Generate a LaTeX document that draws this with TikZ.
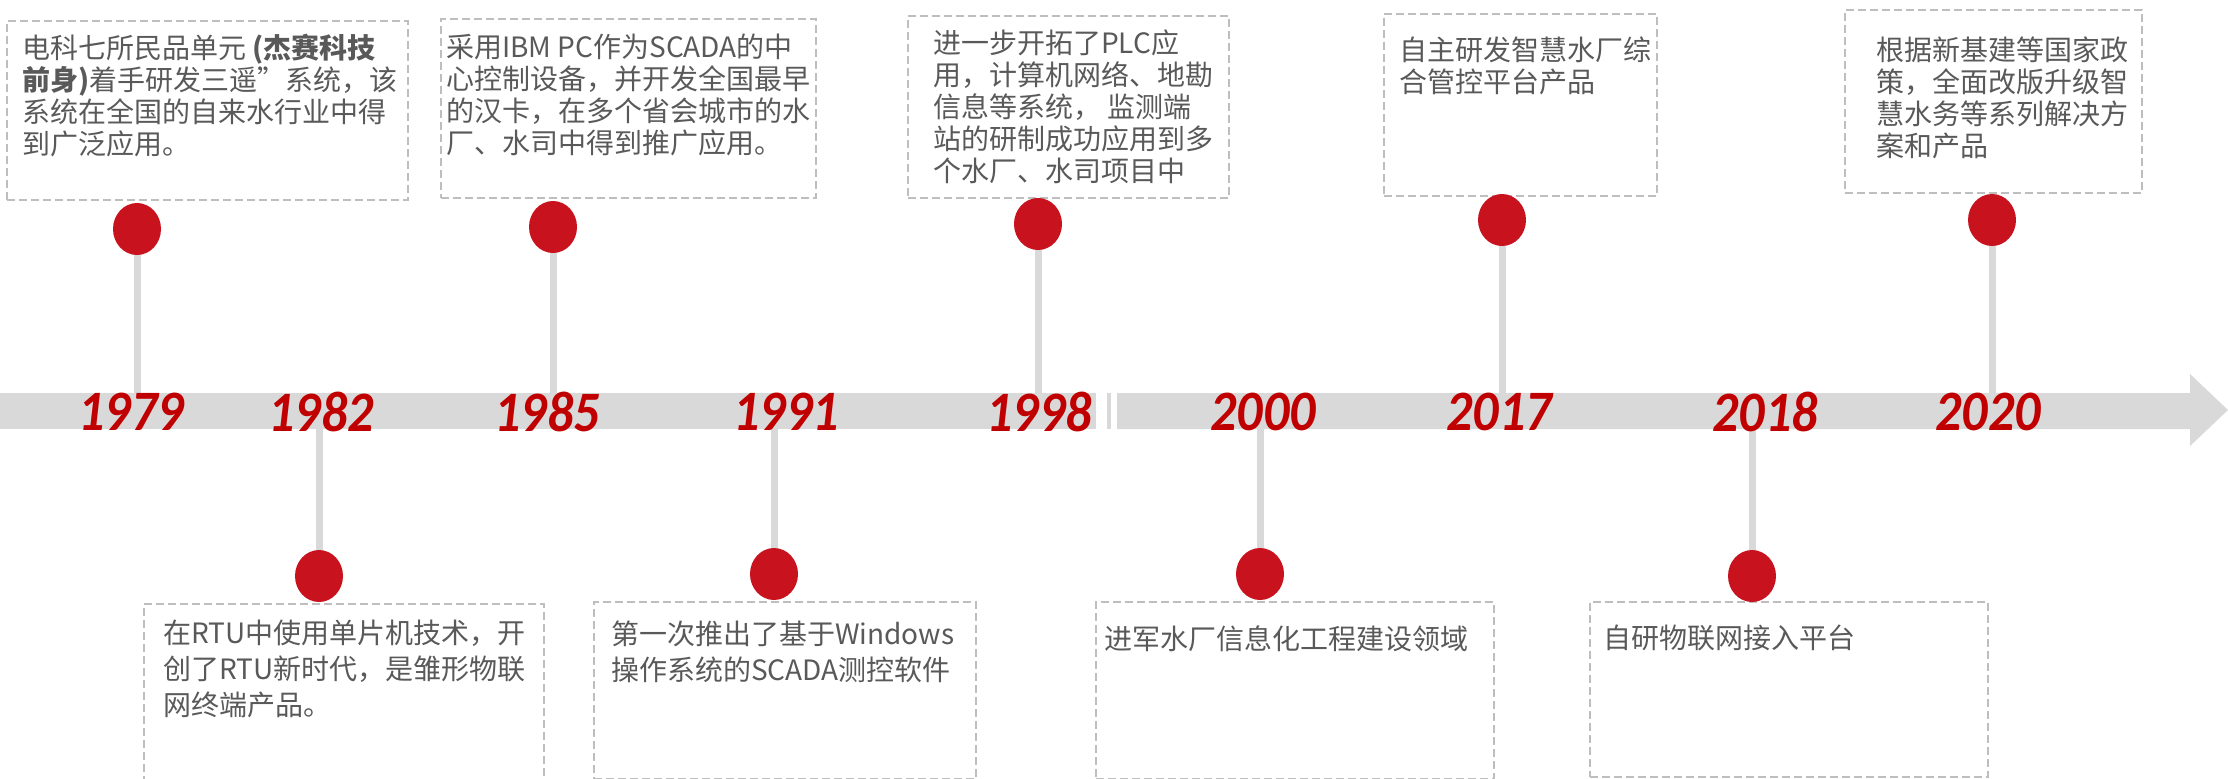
\documentclass[tikz,border=0pt]{standalone}
\usepackage{fontspec}
\usepackage{graphicx}
\setmainfont{Noto Sans CJK SC}
\newfontfamily\yearfont{Carlito}
\usetikzlibrary{shapes.geometric,positioning,calc,backgrounds}
\definecolor{bandgray}{RGB}{217,217,217}
\definecolor{pinred}{RGB}{200,18,30}
\definecolor{yearred}{RGB}{192,0,0}
\definecolor{txtgray}{RGB}{89,89,89}
\definecolor{boxgray}{RGB}{190,190,190}

\begin{document}
\begin{tikzpicture}[x=1pt,y=-1pt,
        card/.style={draw=boxgray,line width=1.5pt,dash pattern=on 8pt off 4pt,
          anchor=north west,inner sep=0pt},
        memo/.style={anchor=north west,align=left,inner sep=0pt,text=txtgray,
          font=\fontsize{28}{32}\selectfont},
        memolow/.style={memo,font=\fontsize{28}{36}\selectfont},
        pin/.style={ellipse,fill=pinred,minimum width=48pt,minimum height=52pt,inner sep=0pt},
        stem/.style={draw=bandgray,line width=7pt},
        year/.style={text=yearred,inner sep=0pt,
          font=\fontsize{52}{52}\yearfont\bfseries\itshape}]
        \useasboundingbox (0,0) rectangle (2228,779);

        % time band with its break and arrow head
        \fill[bandgray] (0,393) rectangle (1096,429);
        \fill[bandgray] (1107,393) rectangle (1111,429);
        \fill[bandgray] (1117,393) -- (2190,393) -- (2190,374) -- (2228,410)
          -- (2190,446) -- (2190,429) -- (1117,429) -- cycle;
        \coordinate (bt) at (0,393);
        \coordinate (bb) at (0,429);

        % upper cards
        \node[card,minimum width=401pt,minimum height=179pt] (b1979) at (6,20) {};
        \node[memo] (t1979) at ([xshift=16pt,yshift=-14pt]b1979.north west)
        {电科七所民品单元 \textbf{(杰赛科技}\\\textbf{前身)}着手研发三遥”系统，该\\系统在全国的自来水行业中得\\到广泛应用。};
        \node[card,minimum width=375pt,minimum height=179pt] (b1985) at (440,18) {};
        \node[memo] (t1985) at ([xshift=6pt,yshift=-16pt]b1985.north west)
        {采用IBM PC作为SCADA的中\\心控制设备，并开发全国最早\\的汉卡，在多个省会城市的水\\厂、水司中得到推广应用。};
        \node[card,minimum width=321pt,minimum height=182pt] (b1998) at (907,15) {};
        \node[memo] (t1998) at ([xshift=26pt,yshift=-15pt]b1998.north west)
        {进一步开拓了PLC应\\用，计算机网络、地勘\\信息等系统， 监测端\\站的研制成功应用到多\\个水厂、水司项目中};
        \node[card,minimum width=273pt,minimum height=182pt] (b2017) at (1383,13) {};
        \node[memo] (t2017) at ([xshift=16pt,yshift=-24pt]b2017.north west)
        {自主研发智慧水厂综\\合管控平台产品};
        \node[card,minimum width=297pt,minimum height=183pt] (b2020) at (1844,9) {};
        \node[memo] (t2020) at ([xshift=32pt,yshift=-28pt]b2020.north west)
        {根据新基建等国家政\\策，全面改版升级智\\慧水务等系列解决方\\案和产品};

        % lower cards
        \node[card,minimum width=400pt,minimum height=180pt] (b1982) at (143,603) {};
        \node[memolow] (t1982) at ([xshift=20pt,yshift=-17pt]b1982.north west)
        {在RTU中使用单片机技术，开\\创了RTU新时代，是雏形物联\\网终端产品。};
        \node[card,minimum width=382pt,minimum height=177pt] (b1991) at (593,601) {};
        \node[memolow] (t1991) at ([xshift=18pt,yshift=-20pt]b1991.north west)
        {第一次推出了基于Windows\\操作系统的SCADA测控软件};
        \node[card,minimum width=398pt,minimum height=177pt] (b2000) at (1095,601) {};
        \node[memolow] (t2000) at ([xshift=9pt,yshift=-24pt]b2000.north west)
        {进军水厂信息化工程建设领域};
        \node[card,minimum width=398pt,minimum height=175pt] (b2018) at (1589,601) {};
        \node[memolow] (t2018) at ([xshift=14pt,yshift=-24pt]b2018.north west)
        {自研物联网接入平台};

        % pins
        \node[pin] (p1979) at (137,229) {};
        \node[pin] (p1985) at (553,227) {};
        \node[pin] (p1998) at (1038,224) {};
        \node[pin] (p2017) at (1502,220) {};
        \node[pin] (p2020) at (1992,220) {};
        \node[pin] (p1982) at (319,576) {};
        \node[pin] (p1991) at (774,574) {};
        \node[pin] (p2000) at (1260,574) {};
        \node[pin] (p2018) at (1752,576) {};
        \begin{pgfonlayer}{background}
        \draw[stem] (p1979.center) -- (p1979 |- bt);
        \draw[stem] (p1985.center) -- (p1985 |- bt);
        \draw[stem] (p1998.center) -- (p1998 |- bt);
        \draw[stem] (p2017.center) -- (p2017 |- bt);
        \draw[stem] (p2020.center) -- (p2020 |- bt);
        \draw[stem] (p1982.center) -- (p1982 |- bb);
        \draw[stem] (p1991.center) -- (p1991 |- bb);
        \draw[stem] (p2000.center) -- (p2000 |- bb);
        \draw[stem] (p2018.center) -- (p2018 |- bb);
        \end{pgfonlayer}

        % years
        \node[year] (y1979) at (131,412) {\scalebox{1}[1.1]{1979}};
        \node[year] (y1982) at (321,412) {\scalebox{1}[1.1]{1982}};
        \node[year] (y1985) at (547,412) {\scalebox{1}[1.1]{1985}};
        \node[year] (y1991) at (786,412) {\scalebox{1}[1.1]{1991}};
        \node[year] (y1998) at (1039,412) {\scalebox{1}[1.1]{1998}};
        \node[year] (y2000) at (1263,412) {\scalebox{1}[1.1]{2000}};
        \node[year] (y2017) at (1499,412) {\scalebox{1}[1.1]{2017}};
        \node[year] (y2018) at (1765,412) {\scalebox{1}[1.1]{2018}};
        \node[year] (y2020) at (1988,412) {\scalebox{1}[1.1]{2020}};
\end{tikzpicture}
\end{document}
